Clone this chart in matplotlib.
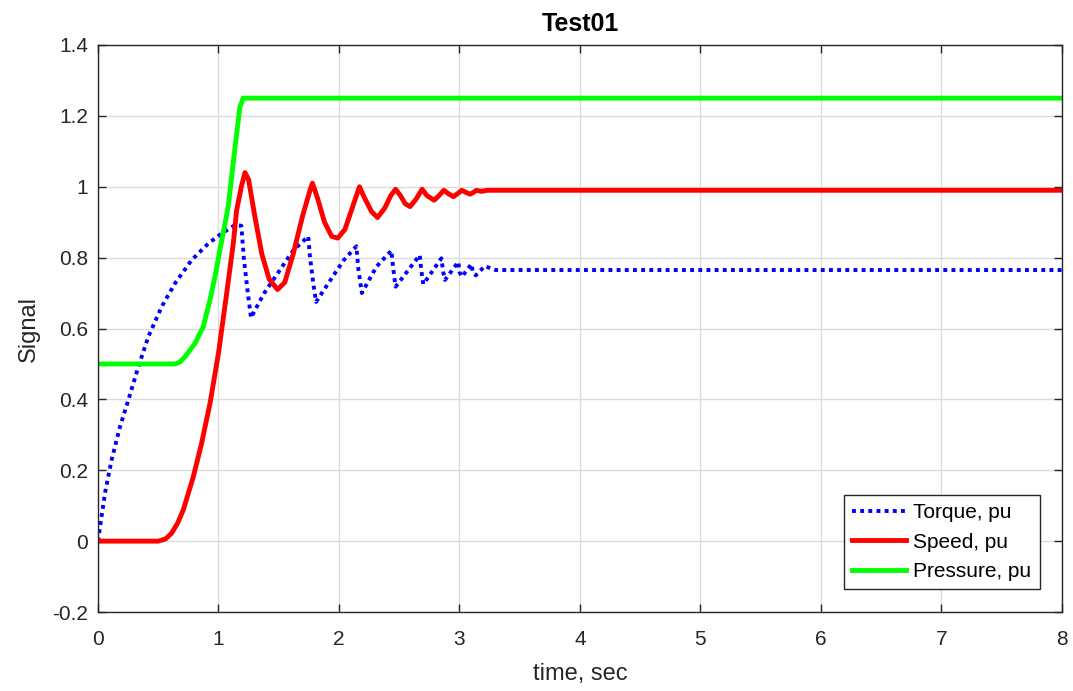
import matplotlib
matplotlib.use("Agg")
import matplotlib.pyplot as plt

plt.rcParams['font.family'] = ['Liberation Sans', 'DejaVu Sans']

# ---- data ----
speed_t = [0, 0.5, 0.56, 0.61, 0.66, 0.708, 0.79, 0.86, 0.93, 1.0, 1.068, 1.123, 1.151, 1.19, 1.22,
           1.25, 1.3, 1.36, 1.42, 1.49, 1.55, 1.62, 1.7, 1.76, 1.78, 1.82, 1.88, 1.94, 1.99,
           2.05, 2.12, 2.17, 2.21, 2.27, 2.32, 2.38, 2.43, 2.47, 2.51, 2.55, 2.59, 2.64, 2.69,
           2.73, 2.79, 2.83, 2.87, 2.91, 2.95, 2.99, 3.02, 3.06, 3.09, 3.12, 3.14, 3.18, 3.23, 8]
speed_v = [0, 0, 0.006, 0.022, 0.05, 0.088, 0.18, 0.276, 0.389, 0.53, 0.699, 0.84, 0.934, 1.0, 1.04,
           1.02, 0.92, 0.81, 0.74, 0.71, 0.73, 0.81, 0.92, 0.99, 1.01, 0.97, 0.9, 0.86, 0.855,
           0.88, 0.95, 1.0, 0.97, 0.93, 0.913, 0.94, 0.975, 0.993, 0.975, 0.952, 0.944, 0.965, 0.993,
           0.975, 0.962, 0.975, 0.99, 0.98, 0.972, 0.982, 0.99, 0.983, 0.979, 0.985, 0.99, 0.987, 0.99, 0.99]

torque_t = [0, 0.058, 0.113, 0.183, 0.252, 0.335, 0.418, 0.528, 0.639, 0.777, 0.916, 1.026, 1.137, 1.19,
            1.21, 1.24, 1.27, 1.3, 1.38, 1.49, 1.62, 1.745, 1.76, 1.79, 1.81, 1.93, 2.04, 2.145,
            2.16, 2.19, 2.31, 2.435, 2.45, 2.47, 2.67, 2.685, 2.70, 2.85, 2.865, 2.88, 2.99, 3.0,
            3.02, 3.10, 3.11, 3.135, 3.21, 3.3, 8]
torque_v = [0, 0.135, 0.229, 0.323, 0.398, 0.492, 0.577, 0.661, 0.727, 0.793, 0.84, 0.868, 0.892, 0.89,
            0.80, 0.71, 0.63, 0.65, 0.70, 0.755, 0.82, 0.86, 0.80, 0.72, 0.675, 0.737, 0.793, 0.832,
            0.77, 0.70, 0.774, 0.82, 0.77, 0.718, 0.807, 0.76, 0.725, 0.798, 0.76, 0.737, 0.788, 0.76,
            0.746, 0.782, 0.76, 0.75, 0.776, 0.765, 0.765]

pressure_t = [0, 0.64, 0.68, 0.722, 0.805, 0.874, 0.929, 0.971, 1.012, 1.054, 1.081, 1.11, 1.137, 1.178, 1.205, 8]
pressure_v = [0.5, 0.5, 0.505, 0.52, 0.558, 0.605, 0.68, 0.746, 0.821, 0.896, 0.945, 1.03, 1.11, 1.225, 1.25, 1.25]

xticks = [0, 1, 2, 3, 4, 5, 6, 7, 8]
yticks = [-0.2, 0, 0.2, 0.4, 0.6, 0.8, 1.0, 1.2, 1.4]
ytick_labels = ['-0.2', '0', '0.2', '0.4', '0.6', '0.8', '1', '1.2', '1.4']

fig = plt.figure(figsize=(10.73, 6.91), dpi=100)
ax = fig.add_axes([0.0913, 0.1143, 0.8984, 0.8206])

ax.plot(torque_t, torque_v, color='#0000ff', linestyle=(0, (1, 1.1)), linewidth=2.8, label='Torque, pu')
ax.plot(speed_t, speed_v, color='#ff0000', linewidth=3.5, label='Speed, pu')
ax.plot(pressure_t, pressure_v, color='#00ff00', linewidth=3.5, label='Pressure, pu')

ax.set_xlim(0, 8)
ax.set_ylim(-0.2, 1.4)
ax.set_xticks(xticks)
ax.set_yticks(yticks)
ax.set_yticklabels(ytick_labels)
ax.grid(True, color='#dcdcdc', linewidth=1.0)
ax.set_axisbelow(True)
ax.tick_params(direction='in', top=True, right=True, length=6, width=1,
               labelsize=15, labelcolor='#262626', colors='#262626')
ax.tick_params(axis='x', pad=13)
ax.tick_params(axis='y', pad=7)
for s in ax.spines.values():
    s.set_color('#262626')
    s.set_linewidth(1.0)

ax.set_xlabel('time, sec', fontsize=17, color='#262626', labelpad=10)
ax.set_ylabel('Signal', fontsize=17, color='#262626', labelpad=9)
ax.set_title('Test01', fontsize=18, fontweight='bold', color='black', pad=10)

leg = ax.legend(loc='lower right', bbox_to_anchor=(0.977, 0.040), fontsize=15, fancybox=False,
                framealpha=1, edgecolor='#262626', handlelength=2.6, borderaxespad=0,
                labelspacing=0.5, handletextpad=0.35, borderpad=0.4)
leg.get_frame().set_linewidth(1.0)

fig.savefig('out.png', dpi=100)
